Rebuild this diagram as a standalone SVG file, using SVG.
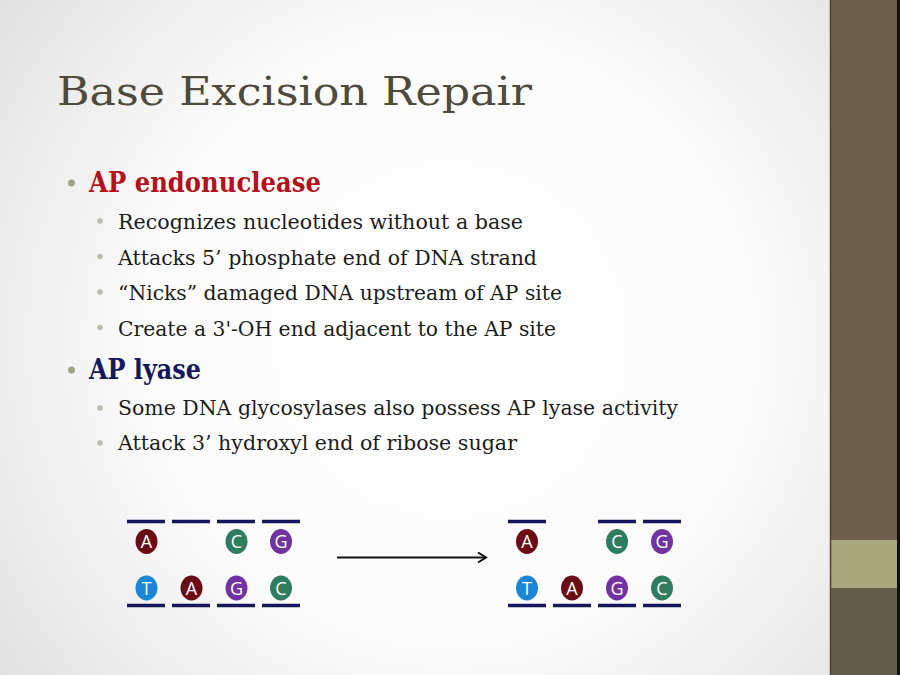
<svg xmlns="http://www.w3.org/2000/svg" width="900" height="675" viewBox="0 0 900 675">
<defs>
<radialGradient id="bg" cx="450" cy="340" r="560" gradientUnits="userSpaceOnUse">
<stop offset="0" stop-color="#ffffff"/>
<stop offset="0.55" stop-color="#fbfbfb"/>
<stop offset="1" stop-color="#e2e2e2"/>
</radialGradient>
<marker id="arr" markerWidth="12" markerHeight="12" refX="10" refY="6" orient="auto" markerUnits="userSpaceOnUse">
<path d="M2,1 L10,6 L2,11" fill="none" stroke="#111" stroke-width="2"/>
</marker>
<style>
.title{font-family:"DejaVu Serif","Liberation Serif",serif;font-size:39px;fill:#4e4a3c}
.h1{font-family:"DejaVu Serif","Liberation Serif",serif;font-size:27px;font-weight:bold}
.sub{font-family:"DejaVu Serif","Liberation Serif",serif;font-size:19.5px;fill:#1c1c1c}
.b1{fill:#9fa489}
.b2{fill:#b9bdb2}
.strand{stroke:#15175a;stroke-width:3.5}
.lbl{font-family:"Open Sans","Liberation Sans",sans-serif;font-size:18px;fill:#ffffff;text-anchor:middle}
.A{fill:#6a0c16}
.C{fill:#2f7c60}
.G{fill:#7232a2}
.T{fill:#1c86d6}
</style>
</defs>
<rect x="0" y="0" width="900" height="675" fill="url(#bg)"/>
<g id="sidebar">
<rect x="830" y="0" width="70" height="675" fill="#6b5e4b"/>
<rect x="830" y="540" width="70" height="48" fill="#a9a57d"/>
<rect x="830" y="588" width="70" height="87" fill="#645d4b"/>
<line x1="830.5" y1="0" x2="830.5" y2="675" stroke="#4a4334" stroke-width="1.5"/>
<rect x="897" y="0" width="3" height="675" fill="#111"/>
</g>
<g id="title">
<text class="title" x="57" y="105" textLength="475" lengthAdjust="spacingAndGlyphs">Base Excision Repair</text>
</g>
<g id="bullets">
<circle class="b1" cx="71.5" cy="183" r="3.5"/>
<text class="h1" x="89" y="192" fill="#b3121c" textLength="232" lengthAdjust="spacingAndGlyphs">AP endonuclease</text>
<circle class="b2" cx="100" cy="221" r="2.8"/>
<text class="sub" x="118" y="229" textLength="405" lengthAdjust="spacingAndGlyphs">Recognizes nucleotides without a base</text>
<circle class="b2" cx="100" cy="256.5" r="2.8"/>
<text class="sub" x="118" y="264.5" textLength="419" lengthAdjust="spacingAndGlyphs">Attacks 5’ phosphate end of DNA strand</text>
<circle class="b2" cx="100" cy="292" r="2.8"/>
<text class="sub" x="118" y="300" textLength="444" lengthAdjust="spacingAndGlyphs">“Nicks” damaged DNA upstream of AP site</text>
<circle class="b2" cx="100" cy="327.5" r="2.8"/>
<text class="sub" x="118" y="335.5" textLength="438" lengthAdjust="spacingAndGlyphs">Create a 3'-OH end adjacent to the AP site</text>
<circle class="b1" cx="71.5" cy="370" r="3.5"/>
<text class="h1" x="89" y="378.5" fill="#15185c" textLength="112" lengthAdjust="spacingAndGlyphs">AP lyase</text>
<circle class="b2" cx="100" cy="408" r="2.8"/>
<text class="sub" x="118" y="415" textLength="560" lengthAdjust="spacingAndGlyphs">Some DNA glycosylases also possess AP lyase activity</text>
<circle class="b2" cx="100" cy="443" r="2.8"/>
<text class="sub" x="118" y="450" textLength="399" lengthAdjust="spacingAndGlyphs">Attack 3’ hydroxyl end of ribose sugar</text>
</g>
<g id="dna-before">
<line class="strand" x1="127" y1="521.5" x2="165" y2="521.5"/>
<line class="strand" x1="172" y1="521.5" x2="210" y2="521.5"/>
<line class="strand" x1="217" y1="521.5" x2="255" y2="521.5"/>
<line class="strand" x1="262" y1="521.5" x2="300" y2="521.5"/>
<line class="strand" x1="127" y1="605.5" x2="165" y2="605.5"/>
<line class="strand" x1="172" y1="605.5" x2="210" y2="605.5"/>
<line class="strand" x1="217" y1="605.5" x2="255" y2="605.5"/>
<line class="strand" x1="262" y1="605.5" x2="300" y2="605.5"/>
<ellipse class="A" cx="146.5" cy="541.5" rx="11" ry="12.5"/><text class="lbl" x="146.5" y="548">A</text>
<ellipse class="C" cx="236.5" cy="541.5" rx="11" ry="12.5"/><text class="lbl" x="236.5" y="548">C</text>
<ellipse class="G" cx="281" cy="541.5" rx="11" ry="12.5"/><text class="lbl" x="281" y="548">G</text>
<ellipse class="T" cx="146.5" cy="588" rx="11" ry="12.5"/><text class="lbl" x="146.5" y="594.5">T</text>
<ellipse class="A" cx="191.5" cy="588" rx="11" ry="12.5"/><text class="lbl" x="191.5" y="594.5">A</text>
<ellipse class="G" cx="236.5" cy="588" rx="11" ry="12.5"/><text class="lbl" x="236.5" y="594.5">G</text>
<ellipse class="C" cx="281" cy="588" rx="11" ry="12.5"/><text class="lbl" x="281" y="594.5">C</text>
</g>
<g id="connectors">
<line x1="337" y1="557.5" x2="486" y2="557.5" stroke="#111" stroke-width="2" marker-end="url(#arr)"/>
</g>
<g id="dna-after">
<line class="strand" x1="508" y1="521.5" x2="546" y2="521.5"/>
<line class="strand" x1="598" y1="521.5" x2="636" y2="521.5"/>
<line class="strand" x1="643" y1="521.5" x2="681" y2="521.5"/>
<line class="strand" x1="508" y1="605.5" x2="546" y2="605.5"/>
<line class="strand" x1="553" y1="605.5" x2="591" y2="605.5"/>
<line class="strand" x1="598" y1="605.5" x2="636" y2="605.5"/>
<line class="strand" x1="643" y1="605.5" x2="681" y2="605.5"/>
<ellipse class="A" cx="527" cy="541.5" rx="11" ry="12.5"/><text class="lbl" x="527" y="548">A</text>
<ellipse class="C" cx="617" cy="541.5" rx="11" ry="12.5"/><text class="lbl" x="617" y="548">C</text>
<ellipse class="G" cx="662" cy="541.5" rx="11" ry="12.5"/><text class="lbl" x="662" y="548">G</text>
<ellipse class="T" cx="527" cy="588" rx="11" ry="12.5"/><text class="lbl" x="527" y="594.5">T</text>
<ellipse class="A" cx="572" cy="588" rx="11" ry="12.5"/><text class="lbl" x="572" y="594.5">A</text>
<ellipse class="G" cx="617" cy="588" rx="11" ry="12.5"/><text class="lbl" x="617" y="594.5">G</text>
<ellipse class="C" cx="662" cy="588" rx="11" ry="12.5"/><text class="lbl" x="662" y="594.5">C</text>
</g>
</svg>
